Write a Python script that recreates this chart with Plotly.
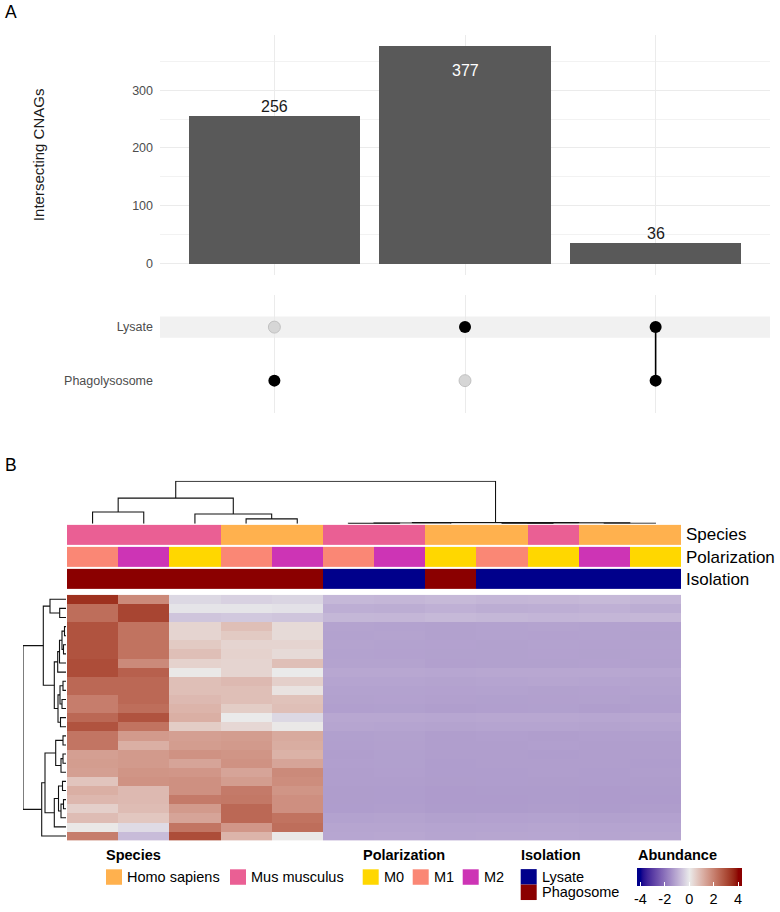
import plotly.graph_objects as go

W, H = 780, 912
FONT = "Liberation Sans, Arial, sans-serif"

# ---------------- Panel A data ----------------
set_names = ["Phagolysosome", "Lysate"]          # matrix rows (bottom -> top)
intersection_sizes = [256, 377, 36]
# membership[i] = which sets belong to intersection i
membership = [["Phagolysosome"], ["Lysate"], ["Lysate", "Phagolysosome"]]

# ---------------- Panel B data ----------------
species = ["Mus musculus", "Mus musculus", "Mus musculus", "Homo sapiens", "Homo sapiens",
           "Mus musculus", "Mus musculus", "Homo sapiens", "Homo sapiens", "Mus musculus",
           "Homo sapiens", "Homo sapiens"]
polarization = ["M1", "M2", "M0", "M1", "M2", "M1", "M2", "M0", "M1", "M0", "M2", "M0"]
isolation = ["Phagosome", "Phagosome", "Phagosome", "Phagosome", "Phagosome", "Lysate",
             "Lysate", "Phagosome", "Lysate", "Lysate", "Lysate", "Lysate"]

species_levels = ["Homo sapiens", "Mus musculus"]
polarization_levels = ["M0", "M1", "M2"]
isolation_levels = ["Lysate", "Phagosome"]

abundance = [
    [3.45, 1.80, -0.30, -0.40, -0.35, -0.82, -0.85, -0.80, -0.85, -0.83, -0.80, -0.85],
    [2.35, 3.10, -0.10, -0.10, -0.15, -0.98, -1.00, -0.95, -1.00, -0.98, -0.95, -1.00],
    [2.35, 3.10, -0.60, -0.55, -0.60, -0.84, -0.85, -0.80, -0.84, -0.86, -0.85, -0.83],
    [2.85, 2.25, 0.40, 0.80, 0.30, -1.18, -1.20, -1.22, -1.20, -1.18, -1.20, -1.21],
    [2.85, 2.25, 0.40, 0.60, 0.30, -1.20, -1.19, -1.22, -1.20, -1.21, -1.20, -1.22],
    [2.85, 2.25, 0.60, 0.40, 0.40, -1.19, -1.20, -1.21, -1.22, -1.20, -1.21, -1.20],
    [2.85, 2.25, 0.80, 0.45, 0.30, -1.20, -1.21, -1.22, -1.22, -1.21, -1.22, -1.21],
    [2.95, 1.80, 0.45, 0.40, 0.80, -1.18, -1.19, -1.23, -1.22, -1.22, -1.21, -1.22],
    [2.95, 2.60, 0.05, 0.40, 0.00, -1.10, -1.10, -1.12, -1.10, -1.11, -1.10, -1.12],
    [2.45, 2.45, 0.80, 0.90, 0.50, -1.17, -1.16, -1.18, -1.17, -1.15, -1.16, -1.18],
    [2.45, 2.45, 0.80, 0.80, 0.15, -1.20, -1.20, -1.21, -1.20, -1.22, -1.21, -1.20],
    [2.05, 2.45, 0.90, 0.80, 0.75, -1.22, -1.21, -1.23, -1.24, -1.23, -1.22, -1.24],
    [2.05, 2.35, 1.00, 0.55, 0.80, -1.25, -1.24, -1.26, -1.25, -1.24, -1.26, -1.25],
    [2.45, 2.85, 1.10, 0.00, -0.30, -1.10, -1.10, -1.12, -1.11, -1.10, -1.12, -1.11],
    [2.85, 2.25, 0.55, 0.35, 0.05, -1.15, -1.16, -1.18, -1.17, -1.16, -1.18, -1.17],
    [2.20, 1.50, 1.40, 1.45, 1.20, -1.24, -1.22, -1.26, -1.25, -1.26, -1.25, -1.24],
    [2.20, 1.10, 1.45, 1.50, 1.15, -1.25, -1.23, -1.27, -1.26, -1.25, -1.26, -1.27],
    [1.40, 1.50, 1.65, 1.60, 1.05, -1.26, -1.24, -1.27, -1.27, -1.28, -1.26, -1.27],
    [1.45, 1.50, 1.30, 1.65, 1.30, -1.25, -1.24, -1.28, -1.27, -1.26, -1.27, -1.28],
    [1.40, 1.60, 1.57, 1.30, 1.80, -1.26, -1.25, -1.28, -1.28, -1.27, -1.28, -1.27],
    [0.70, 1.65, 1.68, 1.45, 1.75, -1.27, -1.26, -1.29, -1.28, -1.29, -1.28, -1.29],
    [1.10, 0.90, 1.68, 2.10, 1.60, -1.29, -1.28, -1.31, -1.30, -1.30, -1.31, -1.30],
    [0.95, 0.90, 2.10, 2.15, 1.70, -1.29, -1.28, -1.31, -1.31, -1.30, -1.31, -1.31],
    [0.50, 0.85, 1.50, 2.45, 1.70, -1.28, -1.27, -1.30, -1.30, -1.29, -1.30, -1.29],
    [0.85, 0.65, 1.30, 2.45, 2.25, -1.20, -1.19, -1.22, -1.21, -1.20, -1.22, -1.21],
    [0.05, -0.25, 2.20, 1.57, 2.35, -1.15, -1.14, -1.17, -1.16, -1.15, -1.17, -1.16],
    [2.05, -0.75, 2.95, 1.00, 0.05, -1.12, -1.11, -1.14, -1.13, -1.12, -1.14, -1.13],
]

# dendrograms: (child_a, child_b, merge height); leaves 0..n-1, new nodes n, n+1, ...
col_merges = [
    (3, 4, 5.0), (2, 12, 10.0), (0, 1, 12.0), (14, 13, 26.0),
    (5, 6, 0.5), (16, 7, 0.9), (8, 9, 0.5), (10, 11, 0.6), (18, 19, 1.0), (17, 20, 1.3),
    (15, 21, 43.0),
]
row_merges = [
    (1, 2, 6.3), (0, 27, 16.0), (3, 4, 1.5), (5, 6, 2.5), (29, 30, 4.0), (31, 7, 6.5),
    (32, 8, 8.3), (9, 10, 3.0), (11, 12, 4.0), (34, 35, 6.0), (13, 14, 5.5), (36, 37, 8.0),
    (33, 38, 11.7), (28, 39, 22.7), (15, 16, 3.0), (17, 18, 3.0), (42, 19, 5.0),
    (41, 43, 10.3), (20, 21, 3.5), (22, 23, 2.5), (46, 24, 5.0), (45, 47, 7.5),
    (48, 25, 11.7), (44, 49, 21.0), (50, 26, 24.3), (40, 51, 43.0),
]

# ---------------- styles ----------------
species_colors = {"Homo sapiens": "#ffb14e", "Mus musculus": "#ea5f94"}
polarization_colors = {"M0": "#ffd700", "M1": "#fa8775", "M2": "#cd34b5"}
isolation_colors = {"Lysate": "#00008b", "Phagosome": "#8b0000"}
LOW, MID, HIGH = "#00008b", "#eaeaea", "#8b0000"
ZLIM = 4.0
ZRANGE = 4.3


def xp(px):
    return px / W


def yp(py):
    return 1 - py / H


# ---- LAB colour interpolation (like colorRamp2) ----
def _lin(c):
    c = c / 255
    return c / 12.92 if c <= 0.04045 else ((c + 0.055) / 1.055) ** 2.4


def _delin(c):
    v = 12.92 * c if c <= 0.0031308 else 1.055 * max(c, 0) ** (1 / 2.4) - 0.055
    return int(round(max(0.0, min(1.0, v)) * 255))


def hex2lab(h):
    r, g, b = (_lin(int(h[i:i + 2], 16)) for i in (1, 3, 5))
    X = (0.4124 * r + 0.3576 * g + 0.1805 * b) / 0.95047
    Y = 0.2126 * r + 0.7152 * g + 0.0722 * b
    Z = (0.0193 * r + 0.1192 * g + 0.9505 * b) / 1.08883
    f = lambda t: t ** (1 / 3) if t > 0.008856 else 7.787 * t + 16 / 116
    fx, fy, fz = f(X), f(Y), f(Z)
    return 116 * fy - 16, 500 * (fx - fy), 200 * (fy - fz)


def lab2rgb(L, a, b):
    fy = (L + 16) / 116
    fx = fy + a / 500
    fz = fy - b / 200
    finv = lambda t: t ** 3 if t ** 3 > 0.008856 else (t - 16 / 116) / 7.787
    X, Y, Z = finv(fx) * 0.95047, finv(fy), finv(fz) * 1.08883
    r = 3.2406 * X - 1.5372 * Y - 0.4986 * Z
    g = -0.9689 * X + 1.8758 * Y + 0.0415 * Z
    bb = 0.0557 * X - 0.2040 * Y + 1.0570 * Z
    return "rgb(%d,%d,%d)" % (_delin(r), _delin(g), _delin(bb))


labL, labM, labH = hex2lab(LOW), hex2lab(MID), hex2lab(HIGH)
colorscale = []
N = 86
for k in range(N + 1):
    z = -ZRANGE + 2 * ZRANGE * k / N
    zc = max(-ZLIM, min(ZLIM, z))
    if zc < 0:
        t, end = -zc / ZLIM, labL
    else:
        t, end = zc / ZLIM, labH
    lab = [labM[i] + t * (end[i] - labM[i]) for i in range(3)]
    colorscale.append([k / N, lab2rgb(*lab)])


def dendro(merges, n):
    pos = {i: float(i) for i in range(n)}
    hgt = {i: 0.0 for i in range(n)}
    P, Hh = [], []
    for k, (a, b, h) in enumerate(merges):
        P += [pos[a], pos[a], pos[b], pos[b], None]
        Hh += [hgt[a], h, h, hgt[b], None]
        pos[n + k] = (pos[a] + pos[b]) / 2
        hgt[n + k] = h
    return P, Hh


fig = go.Figure()

# ---------------- Panel A: bars ----------------
bx = list(range(len(intersection_sizes)))
fig.add_trace(go.Bar(x=bx, y=intersection_sizes, width=0.9, marker_color="#595959",
                     marker_line_width=0, xaxis="x", yaxis="y", showlegend=False,
                     hoverinfo="skip"))

# ---------------- Panel A: matrix ----------------
set_y = {s: i + 1 for i, s in enumerate(set_names)}
on_x, on_y, off_x, off_y, lx, ly = [], [], [], [], [], []
for i, mem in enumerate(membership):
    for s in set_names:
        if s in mem:
            on_x.append(i); on_y.append(set_y[s])
        else:
            off_x.append(i); off_y.append(set_y[s])
    if len(mem) > 1:
        ys = [set_y[s] for s in mem]
        lx += [i, i, None]; ly += [min(ys), max(ys), None]
fig.add_trace(go.Scatter(x=lx, y=ly, mode="lines", line=dict(color="black", width=1.6),
                         xaxis="x2", yaxis="y2", showlegend=False, hoverinfo="skip"))
fig.add_trace(go.Scatter(x=off_x, y=off_y, mode="markers",
                         marker=dict(size=12, color="#d6d6d6", line=dict(color="#b8b8b8", width=0.8)),
                         xaxis="x2", yaxis="y2", showlegend=False, hoverinfo="skip"))
fig.add_trace(go.Scatter(x=on_x, y=on_y, mode="markers",
                         marker=dict(size=12, color="black", line=dict(width=0)),
                         xaxis="x2", yaxis="y2", showlegend=False, hoverinfo="skip"))

# ---------------- Panel B: top dendrogram ----------------
cx, cy = dendro(col_merges, len(species))
fig.add_trace(go.Scatter(x=cx, y=cy, mode="lines", line=dict(color="#111111", width=1.1),
                         xaxis="x3", yaxis="y3", showlegend=False, hoverinfo="skip"))

# ---------------- Panel B: annotation bars ----------------
cat_levels = [("Species", species, species_levels, species_colors),
              ("Polarization", polarization, polarization_levels, polarization_colors),
              ("Isolation", isolation, isolation_levels, isolation_colors)]
codes_all, cols_all = [], []
for _, vals, levels, cmap in cat_levels:
    for lv in levels:
        codes_all.append((lv, len(cols_all)))
        cols_all.append(cmap[lv])
code_of = dict(codes_all)
nc = len(cols_all)
ann_cs = []
for i, c in enumerate(cols_all):
    ann_cs += [[i / nc, c], [(i + 1) / nc, c]]
ann_z = [[code_of[v] for v in vals] for _, vals, _, _ in cat_levels]
fig.add_trace(go.Heatmap(z=ann_z, x=list(range(len(species))), y=[0, 1, 2],
                         colorscale=ann_cs, zmin=-0.5, zmax=nc - 0.5, showscale=False,
                         ygap=2, xaxis="x4", yaxis="y4", hoverinfo="skip"))

# ---------------- Panel B: heatmap ----------------
fig.add_trace(go.Heatmap(z=abundance, x=list(range(len(species))), y=list(range(len(abundance))),
                         colorscale=colorscale, zmin=-ZRANGE, zmax=ZRANGE, xaxis="x5", yaxis="y5",
                         hoverinfo="skip",
                         colorbar=dict(orientation="h", x=xp(689.2), xanchor="center",
                                       y=yp(876), yanchor="top", len=105 / W, lenmode="fraction",
                                       thickness=17.5, thicknessmode="pixels", outlinewidth=0,
                                       xpad=0, ypad=0, tickvals=[-4, -2, 0, 2, 4],
                                       ticktext=["-4", "-2", "0", "2", "4"], ticks="inside",
                                       tickcolor="white", ticklen=4, tickwidth=1,
                                       tickfont=dict(size=14.5, color="black", family=FONT))))

# ---------------- Panel B: row dendrogram ----------------
rp, rh = dendro(row_merges, len(abundance))
fig.add_trace(go.Scatter(x=rh, y=rp, mode="lines", line=dict(color="#111111", width=1.1),
                         xaxis="x6", yaxis="y6", showlegend=False, hoverinfo="skip"))

# ---------------- axes ----------------
hid = dict(visible=False, showgrid=False, zeroline=False, fixedrange=True)
ymax = max(intersection_sizes)
XR = [-0.6, 2.6]
fig.update_layout(
    width=W, height=H, margin=dict(l=0, r=0, t=0, b=0),
    paper_bgcolor="white", plot_bgcolor="white",
    font=dict(family=FONT, color="black"),
    bargap=0,
    xaxis=dict(domain=[xp(160), xp(770)], range=XR, tickvals=bx, showticklabels=False,
               showgrid=True, gridcolor="#ebebeb", gridwidth=1.1, zeroline=False, ticks=""),
    yaxis=dict(domain=[yp(277), yp(35)], range=[-0.05 * ymax, 1.05 * ymax],
               tickvals=[0, 100, 200, 300], showgrid=True, gridcolor="#ebebeb", gridwidth=1.1,
               minor=dict(tickvals=[50, 150, 250, 350], showgrid=True, gridcolor="#f2f2f2",
                          gridwidth=0.6),
               zeroline=False, ticks="", ticklabelstandoff=6,
               tickfont=dict(size=12.5, color="#4d4d4d")),
    xaxis2=dict(domain=[xp(160), xp(770)], range=XR, tickvals=bx, showticklabels=False,
                showgrid=True, gridcolor="#ebebeb", gridwidth=1.1, zeroline=False, ticks=""),
    yaxis2=dict(domain=[yp(416.4), yp(297.6)], range=[0.4, 2.6],
                tickvals=[set_y[s] for s in set_names], ticktext=set_names,
                showgrid=False, zeroline=False, ticks="", ticklabelstandoff=6,
                tickfont=dict(size=12.5, color="#4d4d4d")),
    xaxis3=dict(domain=[xp(67), xp(681)], range=[-0.5, 11.5], **hid),
    yaxis3=dict(domain=[yp(528.5), yp(485)], range=[0, 43.5], **hid),
    xaxis4=dict(domain=[xp(67), xp(681)], range=[-0.5, 11.5], **hid),
    yaxis4=dict(domain=[yp(595.5), yp(528.5)], range=[2.5, -0.5], **hid),
    xaxis5=dict(domain=[xp(67), xp(681)], range=[-0.5, 11.5], **hid),
    yaxis5=dict(domain=[yp(848), yp(600)], range=[26.5, -0.5], **hid),
    xaxis6=dict(domain=[xp(23), xp(66)], range=[43, 0], **hid),
    yaxis6=dict(domain=[yp(848), yp(600)], range=[26.5, -0.5], **hid),
)

shapes = []
# stripe behind the Lysate row
shapes.append(dict(type="rect", xref="x2", yref="y2", x0=XR[0], x1=XR[1],
                   y0=set_y["Lysate"] - 0.2, y1=set_y["Lysate"] + 0.2,
                   fillcolor="#f1f1f1", line_width=0, layer="below"))

annotations = []
# bar labels
for i, v in enumerate(intersection_sizes):
    if v == ymax:
        annotations.append(dict(x=i, y=v, xref="x", yref="y", text=str(v), showarrow=False,
                                xanchor="center", yanchor="middle", yshift=-25,
                                font=dict(size=16, color="white")))
    else:
        annotations.append(dict(x=i, y=v, xref="x", yref="y", text=str(v), showarrow=False,
                                xanchor="center", yanchor="bottom", yshift=-1,
                                font=dict(size=16, color="#1a1a1a")))
annotations.append(dict(x=xp(38.5), y=yp(156), xref="paper", yref="paper",
                        text="Intersecting CNAGs", textangle=-90, showarrow=False,
                        xanchor="center", yanchor="middle",
                        font=dict(size=15, color="#1a1a1a")))
annotations.append(dict(x=xp(3), y=yp(12), xref="paper", yref="paper", text="A",
                        showarrow=False, xanchor="left", yanchor="middle", font=dict(size=17.5)))
annotations.append(dict(x=xp(3), y=yp(469.5), xref="paper", yref="paper", text="B",
                        showarrow=False, xanchor="left", yanchor="middle", font=dict(size=17.5)))
# annotation row names
for r, (name, _, _, _) in enumerate(cat_levels):
    annotations.append(dict(x=xp(684), y=r, xref="paper", yref="y4", text=name,
                            showarrow=False, xanchor="left", yanchor="middle",
                            font=dict(size=17, color="black")))

# legends
LF = 14.5


def legend_title(xpx, text):
    annotations.append(dict(x=xp(xpx), y=yp(862.7), xref="paper", yref="paper",
                            text="<b>%s</b>" % text, showarrow=False, xanchor="left",
                            yanchor="middle", xshift=-2, font=dict(size=LF, color="black")))


def legend_item(xpx, ytop, color, label):
    shapes.append(dict(type="rect", xref="paper", yref="paper", x0=xp(xpx), x1=xp(xpx + 16),
                       y0=yp(ytop + 15.6), y1=yp(ytop), fillcolor=color, line_width=0))
    annotations.append(dict(x=xp(xpx + 19), y=yp(ytop + 7.8), xref="paper", yref="paper",
                            text=label, showarrow=False, xanchor="left", yanchor="middle",
                            font=dict(size=LF, color="black")))


legend_title(106, "Species")
for xpx, lv in zip([106, 230], species_levels):
    legend_item(xpx, 877, species_colors[lv], lv)
legend_title(362.7, "Polarization")
for xpx, lv in zip([362.7, 412.7, 462.7], polarization_levels):
    legend_item(xpx, 877, polarization_colors[lv], lv)
legend_title(520.7, "Isolation")
for ytop, lv in zip([876.8, 892.4], isolation_levels):
    legend_item(520.7, ytop, isolation_colors[lv], lv)
legend_title(637.5, "Abundance")

fig.update_layout(shapes=shapes, annotations=annotations)
fig.write_html("out.html")
